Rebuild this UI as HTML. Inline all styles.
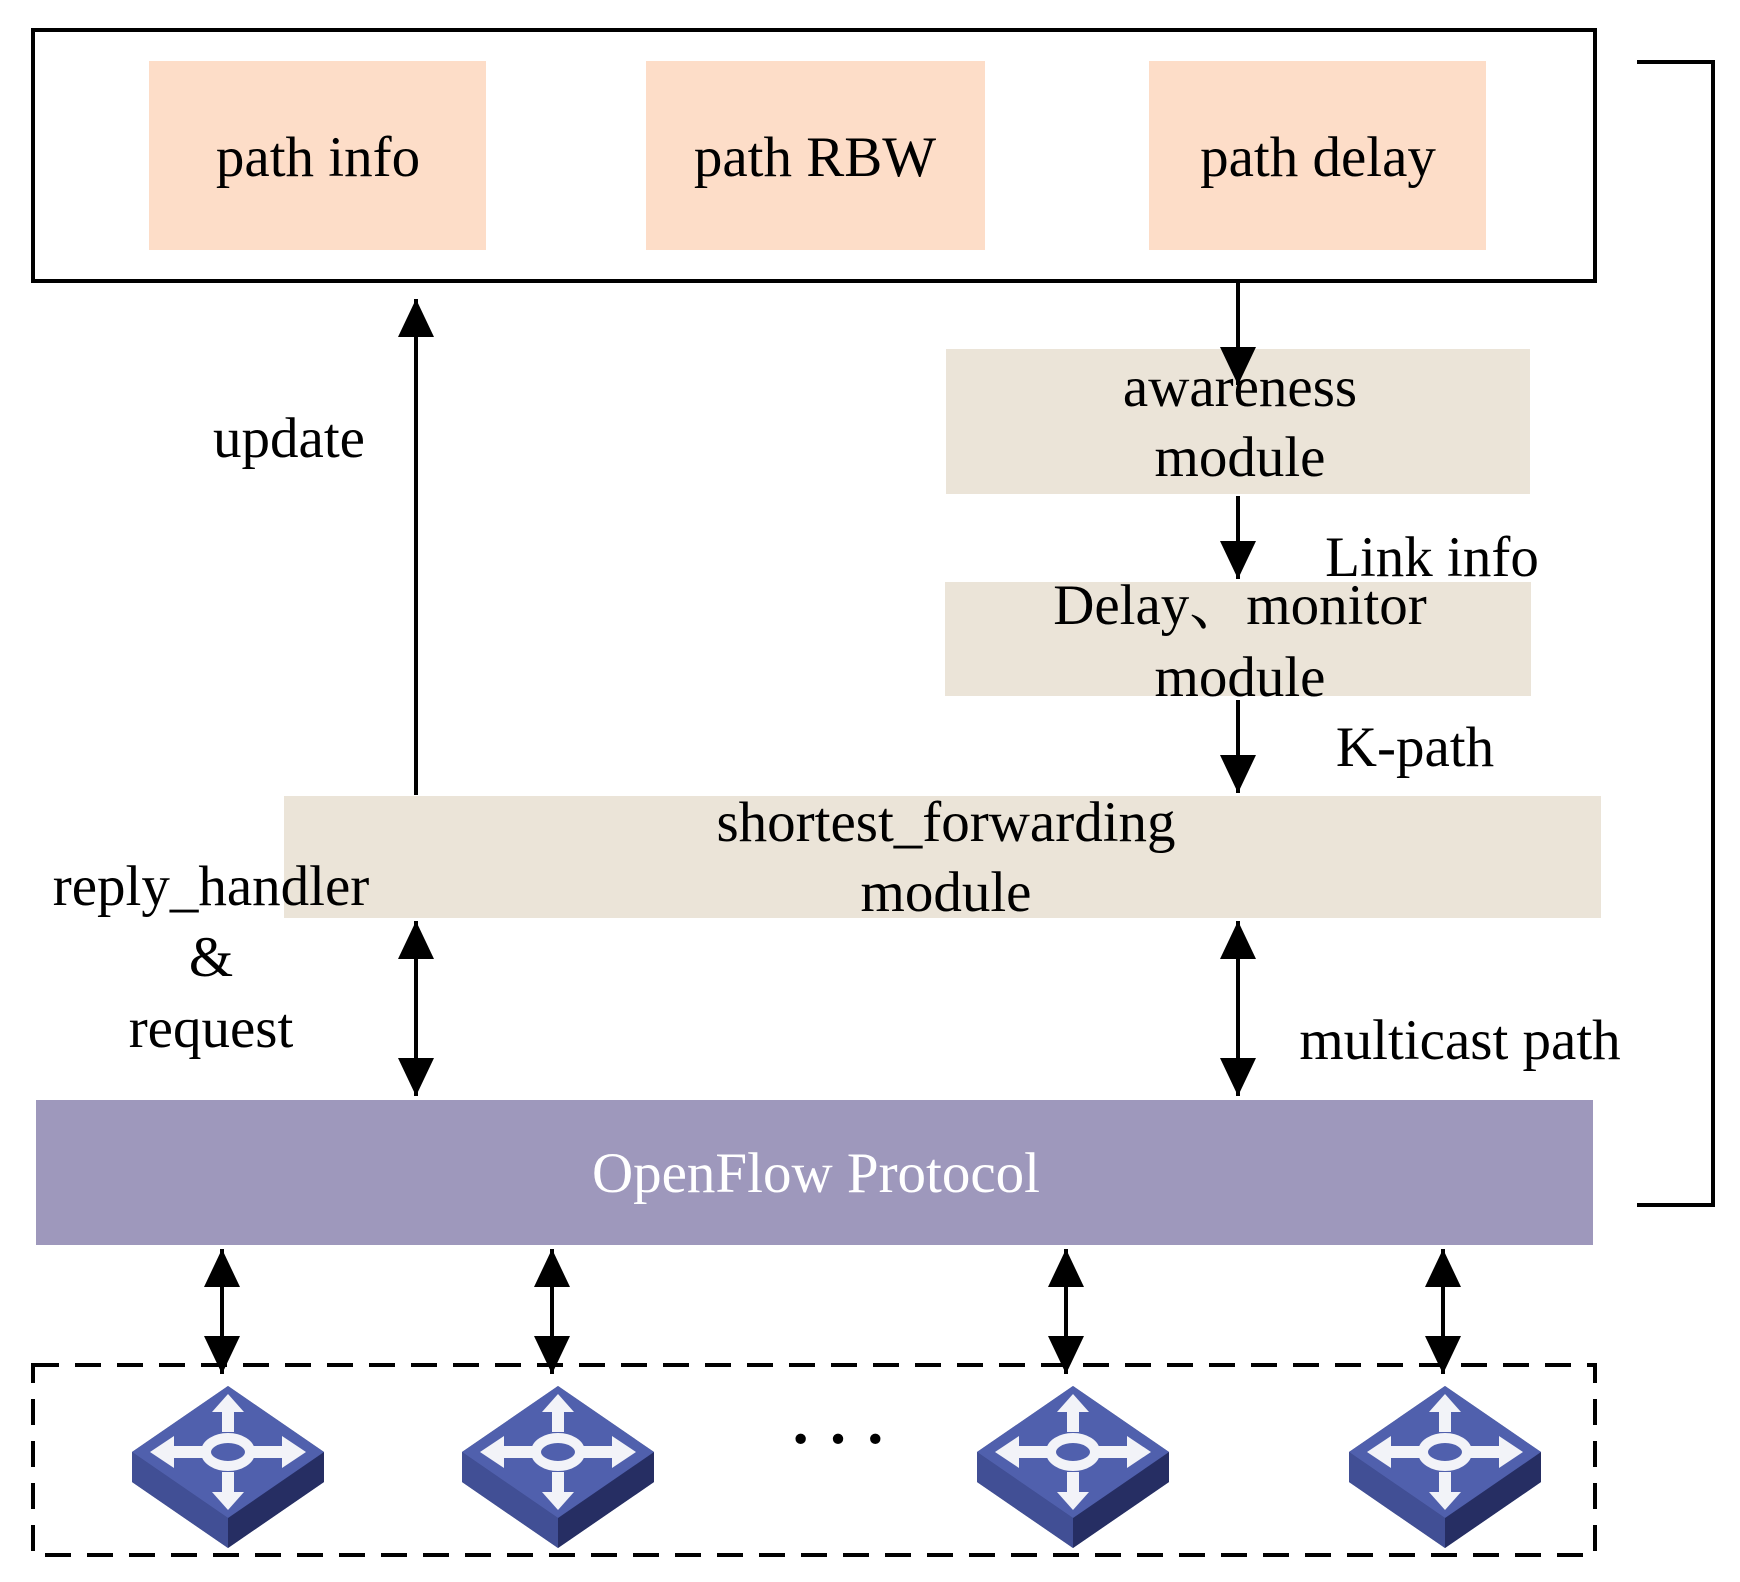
<!DOCTYPE html>
<html><head><meta charset="utf-8"><style>
html,body{margin:0;padding:0;background:#fff;overflow:hidden;}
svg{display:block;}
text{font-family:"Liberation Serif","Noto Serif CJK SC",serif;font-size:57px;fill:#000;}
</style></head><body>
<svg width="1740" height="1582" viewBox="0 0 1740 1582" xmlns="http://www.w3.org/2000/svg">
<defs>
<marker id="ah" viewBox="0 0 38 36" refX="38" refY="18" markerWidth="38" markerHeight="36" markerUnits="userSpaceOnUse" orient="auto-start-reverse">
<path d="M0,0 L38,18 L0,36 Z" fill="#000"/>
</marker>
<g id="sw">
<polygon points="0,-74 96,-8 96,22 0,88 -96,22 -96,-8" fill="#2d3770"/>
<polygon points="-96,-8 0,58 0,88 -96,22" fill="#414f95"/>
<polygon points="96,-8 0,58 0,88 96,22" fill="#262e63"/>
<polygon points="0,-74 96,-8 0,58 -96,-8" fill="#5060ad"/>
<g fill="#f2f3f8">
<ellipse cx="0" cy="-8" rx="22" ry="14" fill="none" stroke="#f2f3f8" stroke-width="10"/>
<rect x="-6" y="-56" width="12" height="28"/><polygon points="0,-66 -16,-48 16,-48"/>
<rect x="-6" y="12" width="12" height="28"/><polygon points="0,50 -16,32 16,32"/>
<rect x="-62" y="-14" width="38" height="12"/><polygon points="-78,-8 -54,-24 -54,8"/>
<rect x="24" y="-14" width="38" height="12"/><polygon points="78,-8 54,-24 54,8"/>
</g>
</g>
</defs>
<rect x="33" y="30" width="1562" height="251" fill="none" stroke="#000" stroke-width="4"/>
<rect x="149" y="61" width="337" height="189" fill="#fdddc8"/>
<rect x="646" y="61" width="339" height="189" fill="#fdddc8"/>
<rect x="1149" y="61" width="337" height="189" fill="#fdddc8"/>
<text x="318" y="176" text-anchor="middle">path info</text>
<text x="815" y="176" text-anchor="middle">path RBW</text>
<text x="1318" y="176" text-anchor="middle">path delay</text>
<polyline points="1637,62 1713,62 1713,1205 1637,1205" fill="none" stroke="#000" stroke-width="4"/>
<rect x="946" y="349" width="584" height="145" fill="#ebe4d8"/>
<rect x="945" y="582" width="586" height="114" fill="#ebe4d8"/>
<rect x="284" y="796" width="1317" height="122" fill="#ebe4d8"/>
<rect x="36" y="1100" width="1557" height="145" fill="#9e98bc"/>
<text x="1240" y="406" text-anchor="middle">awareness</text>
<text x="1240" y="476" text-anchor="middle">module</text>
<text x="1240" y="624" text-anchor="middle">Delay、monitor</text>
<text x="1240" y="696" text-anchor="middle">module</text>
<text x="946" y="841" text-anchor="middle">shortest_forwarding</text>
<text x="946" y="911" text-anchor="middle">module</text>
<text x="816" y="1192" text-anchor="middle" style="fill:#fff">OpenFlow Protocol</text>
<text x="289" y="457" text-anchor="middle">update</text>
<text x="1432" y="576" text-anchor="middle">Link info</text>
<text x="1415" y="766" text-anchor="middle">K-path</text>
<text x="1460" y="1059" text-anchor="middle">multicast path</text>
<text x="211" y="905" text-anchor="middle">reply_handler</text>
<text x="211" y="976" text-anchor="middle">&amp;</text>
<text x="211" y="1047" text-anchor="middle">request</text>
<g stroke="#000" stroke-width="4" fill="none">
<line x1="416" y1="795" x2="416" y2="299" marker-end="url(#ah)"/>
<line x1="1238" y1="281" x2="1238" y2="385" marker-end="url(#ah)"/>
<line x1="1238" y1="496" x2="1238" y2="579" marker-end="url(#ah)"/>
<line x1="1238" y1="700" x2="1238" y2="793" marker-end="url(#ah)"/>
<line x1="416" y1="921" x2="416" y2="1096" marker-start="url(#ah)" marker-end="url(#ah)"/>
<line x1="1238" y1="921" x2="1238" y2="1096" marker-start="url(#ah)" marker-end="url(#ah)"/>
<line x1="222" y1="1249" x2="222" y2="1374" marker-start="url(#ah)" marker-end="url(#ah)"/>
<line x1="552" y1="1249" x2="552" y2="1374" marker-start="url(#ah)" marker-end="url(#ah)"/>
<line x1="1066" y1="1249" x2="1066" y2="1374" marker-start="url(#ah)" marker-end="url(#ah)"/>
<line x1="1443" y1="1249" x2="1443" y2="1374" marker-start="url(#ah)" marker-end="url(#ah)"/>
<rect x="33" y="1365" width="1562" height="190" stroke-dasharray="26,16"/>
</g>
<use href="#sw" x="228" y="1460"/>
<use href="#sw" x="558" y="1460"/>
<use href="#sw" x="1073" y="1460"/>
<use href="#sw" x="1445" y="1460"/>
<text x="838" y="1460" text-anchor="middle" style="font-size:64px;font-weight:bold">· · ·</text>
</svg>
</body></html>
